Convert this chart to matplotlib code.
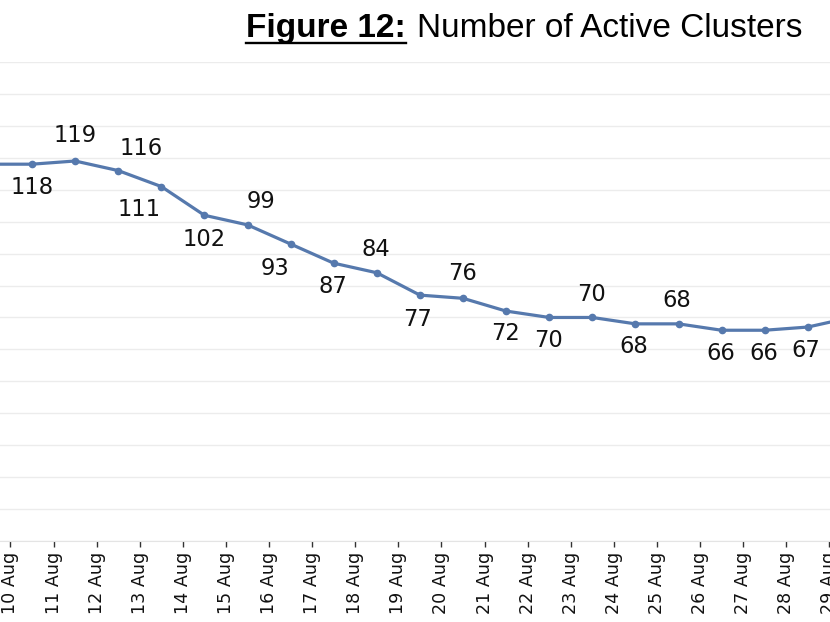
import numpy as np
import matplotlib.pyplot as plt

# daily count of active clusters (9 Aug and 29 Aug are cut off at the edges)
dates = ["9 Aug", "10 Aug", "11 Aug", "12 Aug", "13 Aug", "14 Aug", "15 Aug",
         "16 Aug", "17 Aug", "18 Aug", "19 Aug", "20 Aug", "21 Aug", "22 Aug",
         "23 Aug", "24 Aug", "25 Aug", "26 Aug", "27 Aug", "28 Aug", "29 Aug"]
clusters = [118, 118, 119, 116, 111, 102, 99, 93, 87, 84, 77, 76, 72, 70,
            70, 68, 68, 66, 66, 67, 70]

# where each data label sits relative to its point (pixels), None = not shown
label_offsets = [None, (0, -23), (0, 25), (23, 22), (-22, -23), (0, -24),
                 (14, 23), (-16, -24), (-1, -23), (-1, 23), (-2, -24),
                 (-1, 25), (-1, -22), (-1, -23), (-1, 23), (-2, -23),
                 (-2, 23), (-1, -23), (-1, -23), (-2, -23), None]

W, H = 830, 622
fig = plt.figure(figsize=(W / 100, H / 100), dpi=100)
ax = fig.add_axes([0, 1 - 541 / H, 1, (541 - 62) / H])

x = np.arange(len(dates))
step = 43.1

ax.plot(x, clusters, color="#5679ad", lw=2.3, marker="o", ms=4.5, zorder=3)

for xi, v, off in zip(x, clusters, label_offsets):
    if off is None:
        continue
    ax.annotate(str(v), (xi, v), xytext=off, textcoords="offset pixels",
                ha="center", va="center", fontsize=16.3, color="#111111",
                family="DejaVu Sans")

ax.set_yticks(np.arange(0, 151, 10))
ax.yaxis.grid(True, color="#ececec", lw=1)
ax.set_axisbelow(True)
ax.tick_params(axis="y", left=False, labelleft=False)
ax.set_xticks(x - 0.5)
ax.set_xticklabels(dates, rotation=90, fontsize=12.6, color="#111111")
ax.tick_params(axis="x", length=4, width=1, color="#333333", pad=4)
for s in ["top", "left", "right"]:
    ax.spines[s].set_visible(False)
ax.spines["bottom"].set_color("#e4e4e4")
# limits after the ticks, so the ticks do not widen the view
ax.set_xlim(1 - 32 / step, 1 + (W - 32) / step)
ax.set_ylim(0, 150)

# title: bold underlined "Figure 12:" followed by regular text
base_y = 1 - 37 / H
t2 = fig.text(802 / W, base_y, "Number of Active Clusters", ha="right",
              va="baseline", fontsize=24, family="Liberation Sans")
fig.canvas.draw()
r = fig.canvas.get_renderer()
bb2 = t2.get_window_extent(r)
t1 = fig.text((bb2.x0 - 11) / W, base_y, "Figure 12:", ha="right",
              va="baseline", fontsize=24, fontweight="bold",
              family="Liberation Sans")
bb1 = t1.get_window_extent(r)
uy = 1 - 43 / H
fig.add_artist(plt.Line2D([bb1.x0 / W, bb1.x1 / W], [uy, uy],
                          color="black", lw=1.7, transform=fig.transFigure))

fig.savefig("out.png", dpi=100)
